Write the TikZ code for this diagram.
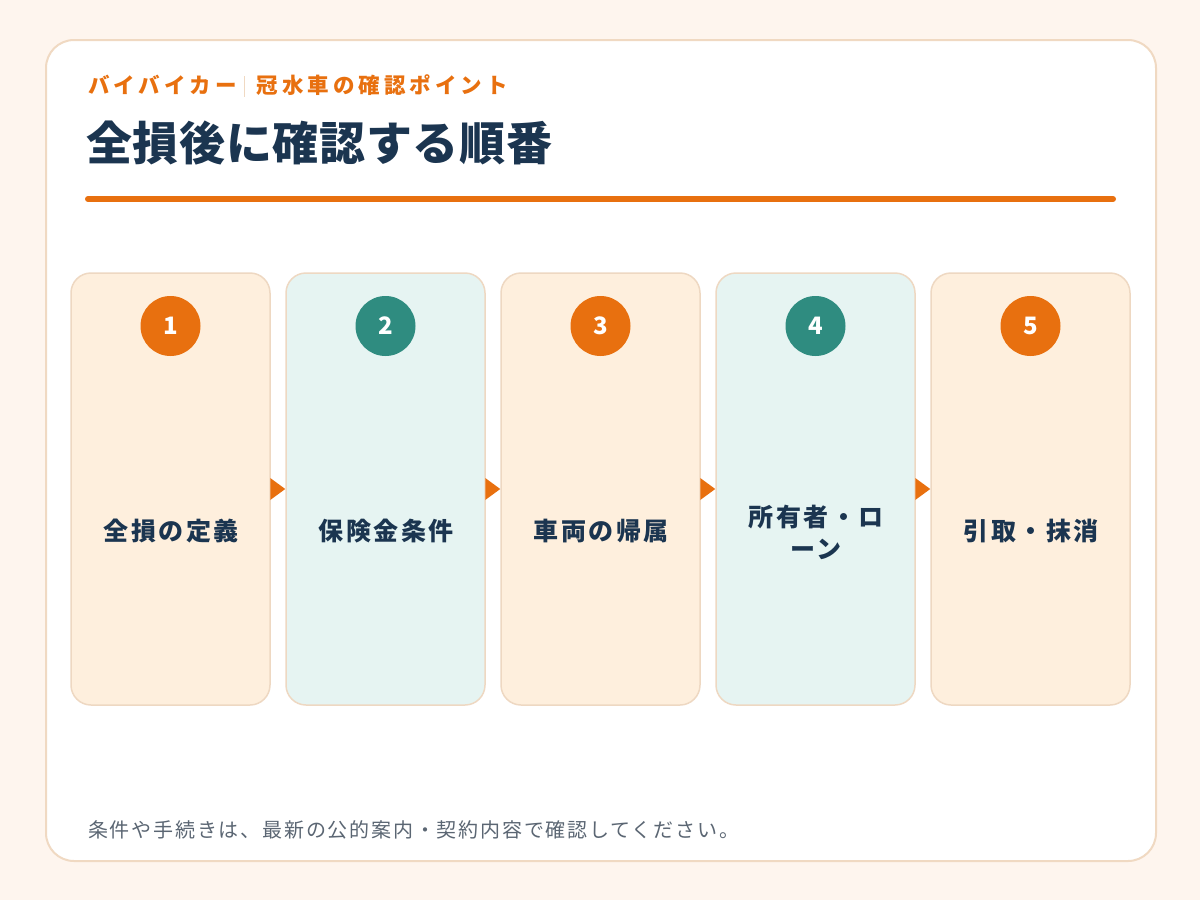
\documentclass[tikz,border=0pt]{standalone}
\usepackage{fontspec}
\setmainfont{Noto Sans CJK JP}
\newfontfamily\jp{Noto Sans CJK JP}
\usetikzlibrary{calc}
\definecolor{bgout}{HTML}{FEF5EE}
\definecolor{panelborder}{HTML}{F0D9C2}
\definecolor{accent}{HTML}{E8700F}
\definecolor{navy}{HTML}{1B3550}
\definecolor{tealc}{HTML}{2F8C80}
\definecolor{peach}{HTML}{FEEFDD}
\definecolor{mint}{HTML}{E6F4F2}
\definecolor{cardborder}{HTML}{EED8C2}
\definecolor{footgray}{HTML}{5B6673}
\tikzset{
  card/.style={draw=cardborder, line width=1.5pt, rounded corners=20pt, minimum width=199pt, minimum height=432pt, inner sep=0pt},
  peachcard/.style={card, fill=peach},
  mintcard/.style={card, fill=mint},
  badge/.style={circle, minimum size=60pt, inner sep=0pt, text=white, font={\jp\bfseries\fontsize{24}{26}\selectfont}},
  obadge/.style={badge, fill=accent},
  tbadge/.style={badge, fill=tealc},
  steplabel/.style={text=navy, align=center, font={\jp\bfseries\fontsize{25}{32}\selectfont\addfontfeatures{LetterSpace=10}}},
  flowtip/.style={fill=accent},
}
\begin{document}
\begin{tikzpicture}[x=1pt,y=-1pt]
\useasboundingbox (0,0) rectangle (1200,900);
\fill[bgout] (0,0) rectangle (1200,900);
\draw[panelborder, fill=white, line width=2pt, rounded corners=28pt] (46,40) rectangle (1156,861);
% header
\node[anchor=west, inner sep=0pt, text=accent, font={\jp\bfseries\fontsize{21.5}{24}\selectfont\addfontfeatures{LetterSpace=18.5}}] (kicker) at (88,86)
  {バイバイカー\hspace{7pt}{\color{panelborder}\rule[-3pt]{1.2pt}{21pt}}\hspace{12pt}冠水車の確認ポイント};
\node[anchor=west, inner sep=0pt, text=navy, font={\jp\bfseries\fontsize{46}{50}\selectfont\addfontfeatures{LetterSpace=1.5}}] (title) at (86,143) {全損後に確認する順番};
\coordinate (ruleL) at (88,199);
\coordinate (ruleR) at (1113,199);
\draw[accent, line width=6pt, line cap=round] (ruleL) -- (ruleR);
% cards
\node[peachcard] (c1) at (170.5,489) {};
\node[mintcard]  (c2) at (385.5,489) {};
\node[peachcard] (c3) at (600.5,489) {};
\node[mintcard]  (c4) at (815.5,489) {};
\node[peachcard] (c5) at (1030.5,489) {};
% badges
\node[obadge] (b1) at (170.5,326) {1};
\node[tbadge] (b2) at (385.5,326) {2};
\node[obadge] (b3) at (600.5,326) {3};
\node[tbadge] (b4) at (815.5,326) {4};
\node[obadge] (b5) at (1030.5,326) {5};
% labels
\node[steplabel] (l1) at (171,531) {全損の定義};
\node[steplabel] (l2) at (386,531) {保険金条件};
\node[steplabel] (l3) at (601,531) {車両の帰属};
\node[steplabel] (l4) at (816,532) {所有者・ロ\\ーン};
\node[steplabel] (l5) at (1031,531) {引取・抹消};
% arrows
\foreach \a in {c1,c2,c3,c4}{
  \fill[flowtip] ($(\a.east)+(-0.5,-11)$) -- ($(\a.east)+(14.5,0)$) -- ($(\a.east)+(-0.5,11)$) -- cycle;
}
% footer
\node[anchor=west, inner sep=0pt, text=footgray, font={\jp\fontsize{20}{24}\selectfont\addfontfeatures{LetterSpace=9}}] (foot) at (88,830) {条件や手続きは、最新の公的案内・契約内容で確認してください。};
\end{tikzpicture}
\end{document}
